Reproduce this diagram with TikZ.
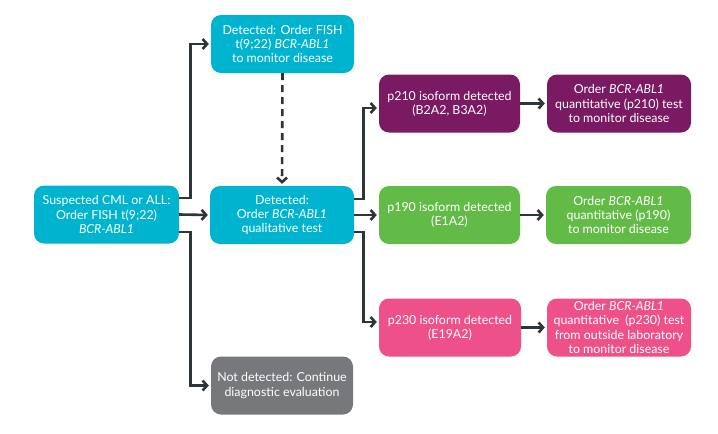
\documentclass[tikz,border=0pt]{standalone}
\usepackage{fontspec}
\setmainfont{Lato}
\usetikzlibrary{arrows.meta}
\definecolor{cmlcyan}{RGB}{0,180,208}
\definecolor{cmlpurple}{RGB}{122,26,98}
\definecolor{cmlgreen}{RGB}{98,187,70}
\definecolor{cmlpink}{RGB}{238,80,137}
\definecolor{cmlgray}{RGB}{119,120,123}
\definecolor{linkdark}{RGB}{45,53,56}
\begin{document}
\begin{tikzpicture}[x = 1pt, y = -1pt,
    box/.style = {draw = none, rounded corners = 10pt, text = white, align = center, inner sep = 0pt, minimum height = 58pt, minimum width = 144pt, font = \fontsize{12.4}{14.2}\selectfont},
    cyanbox/.style = {box, fill = cmlcyan},
    purplebox/.style = {box, fill = cmlpurple},
    greenbox/.style = {box, fill = cmlgreen},
    pinkbox/.style = {box, fill = cmlpink},
    graybox/.style = {box, fill = cmlgray, minimum width = 142pt},
    link/.style = {draw = linkdark, line width = 2.6pt, shorten > = 2pt, -{Straight Barb[length = 4.5pt, width = 10pt]}}]
    \useasboundingbox (0, 0) rectangle (718, 434);
    \node (susp) at (106.5, 214.5) [cyanbox, minimum width = 145pt] {Suspected CML or ALL:\\Order FISH t(9;22)\\\textit{BCR-ABL1}};
    \node (fish) at (282.5, 44) [cyanbox, minimum width = 143pt] {Detected: Order FISH\\t(9;22) \textit{BCR-ABL1}\\to monitor disease};
    \node (qual) at (282, 215) [cyanbox] {Detected:\\Order \textit{BCR-ABL1}\\qualitative test};
    \node (none) at (282, 385.5) [graybox] {Not detected: Continue\\diagnostic evaluation};
    \node (p210) at (449.5, 103.5) [purplebox, minimum width = 141pt] {p210 isoform detected\\(B2A2, B3A2)};
    \node (q210) at (619, 103.5) [purplebox] {Order \textit{BCR-ABL1}\\quantitative (p210) test\\to monitor disease};
    \node (p190) at (449.5, 215) [greenbox, minimum width = 141pt] {p190 isoform detected\\(E1A2)};
    \node (q190) at (618.5, 215) [greenbox, minimum width = 145pt] {Order \textit{BCR-ABL1}\\quantitative (p190)\\to monitor disease};
    \node (p230) at (450, 327.5) [pinkbox, minimum width = 142pt] {p230 isoform detected\\(E19A2)};
    \node (q230) at (619, 327.5) [pinkbox] {Order \textit{BCR-ABL1}\\quantitative\ \ (p230) test\\from outside laboratory\\to monitor disease};

    % from the FISH test
    \draw[link] ([yshift = 16.5pt]susp.east) -- ++(11, 0) |- (fish.west);
    \draw[link] (susp.east) -- (qual.west);
    \draw[link] ([yshift = -17.5pt]susp.east) -- ++(11, 0) |- (none.west);
    \draw[link, dash pattern = on 7pt off 5pt] (fish.south) -- (qual.north);

    % from the qualitative test
    \draw[link] ([yshift = 16pt]qual.east) -- ++(9, 0) |- ([yshift = -4.5pt]p210.west);
    \draw[link] (qual.east) -- (p190.west);
    \draw[link] ([yshift = -17pt]qual.east) -- ++(9, 0) |- ([yshift = 5.5pt]p230.west);

    \draw[link] (p210) -- (q210);
    \draw[link] (p190) -- (q190);
    \draw[link] (p230) -- (q230);
\end{tikzpicture}
\end{document}
